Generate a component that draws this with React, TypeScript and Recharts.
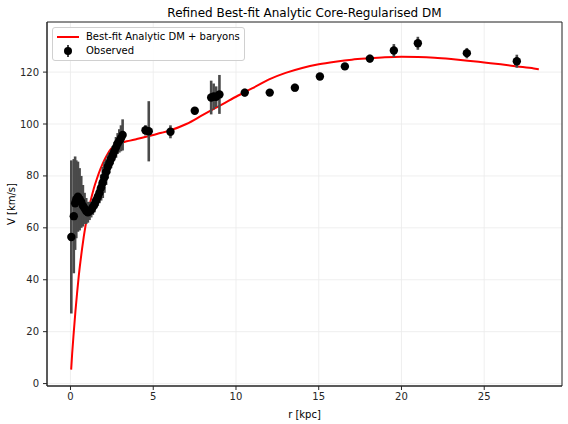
import {
  ComposedChart,
  Line,
  Scatter,
  ErrorBar,
  XAxis,
  YAxis,
  CartesianGrid,
  ReferenceArea,
  Legend,
  Label,
} from 'recharts';

// observed rotation curve: radius [kpc], velocity [km/s], 1-sigma error
const obsR = [
  0.05, 0.2, 0.28, 0.35, 0.45, 0.55, 0.65, 0.75, 0.85, 0.95, 1.05, 1.15, 1.25, 1.35, 1.45, 1.55, 1.65,
  1.75, 1.85, 1.95, 2.05, 2.15, 2.25, 2.35, 2.45, 2.55, 2.65, 2.75, 2.85, 2.95, 3.05, 3.15,
  4.53, 4.73, 6.04, 7.51, 8.5, 8.65, 8.8, 9.0, 10.53, 12.04, 13.56, 15.07, 16.58, 18.09, 19.54,
  20.99, 23.95, 26.97,
];
const obsV = [
  56.5, 64.5, 69.5, 71, 72, 71, 70, 68.5, 67.5, 66.5, 66, 66.5, 67, 68, 69, 70.5, 72,
  73.5, 75.5, 77.5, 79.5, 81.5, 83.5, 85, 86.5, 88, 89.5, 91, 92.5, 93.5, 94.5, 95.8,
  97.6, 97.2, 97, 105.1, 110.2, 110.6, 110.5, 111.4, 112.1, 112.1, 114, 118.3, 122.2, 125.2, 128.3,
  131.1, 127.3, 124.2,
];
const obsErr = [
  29.5, 22, 18, 15, 13.5, 12, 10, 8, 6, 5, 4, 3.5, 3, 3, 3, 3, 3.5,
  4, 5, 6, 6, 5, 4.5, 4, 3.5, 3.5, 3.5, 4, 4, 4.5, 5, 6,
  2, 11.6, 2.5, 1, 6.5, 5, 4, 7.5, 1.5, 1, 1.5, 1, 1, 1.5, 2.5,
  2.5, 2, 2.5,
];

// best-fit model curve
const fitR = [
  0.04, 0.1, 0.2, 0.3, 0.4, 0.5, 0.6, 0.7, 0.8, 0.9, 1.0, 1.1, 1.2, 1.4, 1.6, 1.8, 2.0, 2.2,
  2.4, 2.6, 2.8, 3.0, 3.3, 3.6, 4.0, 4.5, 5.0, 5.5, 6.0, 7.0, 8.0, 9.0, 10.0, 11.0, 12.0, 13.0,
  14.0, 15.0, 16.0, 17.0, 18.0, 19.0, 20.0, 21.0, 22.0, 23.0, 24.0, 25.0, 26.0, 27.0, 28.0, 28.3,
];
const fitV = [
  5.4, 11.5, 20, 28, 35, 41.5, 47, 52, 56.5, 60.5, 64, 67, 70, 75, 79, 82.5, 85.5, 88,
  90, 91.3, 92.2, 92.8, 93.2, 93.6, 94.2, 95, 95.8, 96.6, 97.5, 100, 103.5, 107, 110.5, 113.8, 117.2, 119.7,
  121.6, 123, 124, 124.8, 125.3, 125.7, 125.9, 125.8, 125.5, 125, 124.4, 123.7, 123, 122.2, 121.4, 121.1,
];

const xTicks = [0, 5, 10, 15, 20, 25];
const yTicks = [0, 20, 40, 60, 80, 100, 120];

const observed = obsR.map((r, i) => ({ r, v: obsV[i], err: obsErr[i] }));
const fit = fitR.map((r, i) => ({ r, v: fitV[i] }));

const X_DOMAIN: [number, number] = [-1.42, 29.7];
const Y_DOMAIN: [number, number] = [-0.93, 139.3];
const FONT = '"DejaVu Sans", sans-serif';
const INK = '#262626';

function LegendBox() {
  return (
    <div
      style={{
        background: 'rgba(255,255,255,0.85)',
        border: '1px solid #d0d0d0',
        borderRadius: 3,
        padding: '2px 4px 2px 3px',
        fontSize: 10,
        fontFamily: FONT,
        color: '#000',
        lineHeight: '14px',
      }}
    >
      <div style={{ display: 'flex', alignItems: 'center' }}>
        <svg width={24} height={10} style={{ marginRight: 6 }}>
          <line x1={1} y1={5} x2={23} y2={5} stroke="#ff0000" strokeWidth={2} />
        </svg>
        <span>Best-fit Analytic DM + baryons</span>
      </div>
      <div style={{ display: 'flex', alignItems: 'center' }}>
        <svg width={24} height={12} style={{ marginRight: 6 }}>
          <line x1={12} y1={0} x2={12} y2={12} stroke="#444" strokeWidth={2} />
          <circle cx={12} cy={6} r={4} fill="#000" />
        </svg>
        <span>Observed</span>
      </div>
    </div>
  );
}

const Dot = (props: any) => <circle cx={props.cx} cy={props.cy} r={4.2} fill="#000" />;

export default function App() {
  return (
    <div style={{ position: 'absolute', left: 0, top: 0, width: 568, height: 424, background: '#fff', fontFamily: FONT }}>
      <div
        style={{
          position: 'absolute',
          left: 47,
          width: 515,
          top: 6,
          textAlign: 'center',
          fontSize: 12,
          lineHeight: '15px',
          color: '#000',
        }}
      >
        Refined Best-fit Analytic Core-Regularised DM
      </div>
      <ComposedChart width={568} height={424} margin={{ top: 22, right: 6, bottom: 0, left: 0 }}>
        <CartesianGrid stroke="#ebebeb" strokeWidth={0.8} />
        <XAxis
          dataKey="r"
          type="number"
          domain={X_DOMAIN}
          allowDataOverflow
          ticks={xTicks}
          height={38}
          tickSize={4}
          tickMargin={3}
          stroke={INK}
          tick={{ fontSize: 10, fill: INK, fontFamily: FONT }}
        >
          <Label value="r [kpc]" position="insideBottom" offset={6} style={{ fontSize: 10, fill: '#000', fontFamily: FONT }} />
        </XAxis>
        <YAxis
          type="number"
          domain={Y_DOMAIN}
          allowDataOverflow
          ticks={yTicks}
          width={47}
          tickSize={4}
          tickMargin={4}
          stroke={INK}
          tick={{ fontSize: 10, fill: INK, fontFamily: FONT }}
        >
          <Label
            value="V [km/s]"
            angle={-90}
            position="insideLeft"
            offset={11}
            style={{ fontSize: 10, fill: '#000', fontFamily: FONT, textAnchor: 'middle' }}
          />
        </YAxis>
        <ReferenceArea
          x1={X_DOMAIN[0]}
          x2={X_DOMAIN[1]}
          y1={Y_DOMAIN[0]}
          y2={Y_DOMAIN[1]}
          fill="none"
          stroke={INK}
          strokeWidth={1}
          ifOverflow="visible"
        />
        <Line
          data={fit}
          dataKey="v"
          type="monotone"
          stroke="#ff0000"
          strokeWidth={2}
          dot={false}
          isAnimationActive={false}
        />
        <Scatter data={observed} dataKey="v" shape={Dot} isAnimationActive={false}>
          <ErrorBar dataKey="err" direction="y" width={0} stroke="#4a4a4a" strokeWidth={2.6} />
        </Scatter>
        <Legend
          layout="horizontal"
          verticalAlign="middle"
          align="center"
          content={() => <LegendBox />}
          wrapperStyle={{ left: 52, top: 27, width: 'auto', height: 'auto' }}
        />
      </ComposedChart>
    </div>
  );
}
